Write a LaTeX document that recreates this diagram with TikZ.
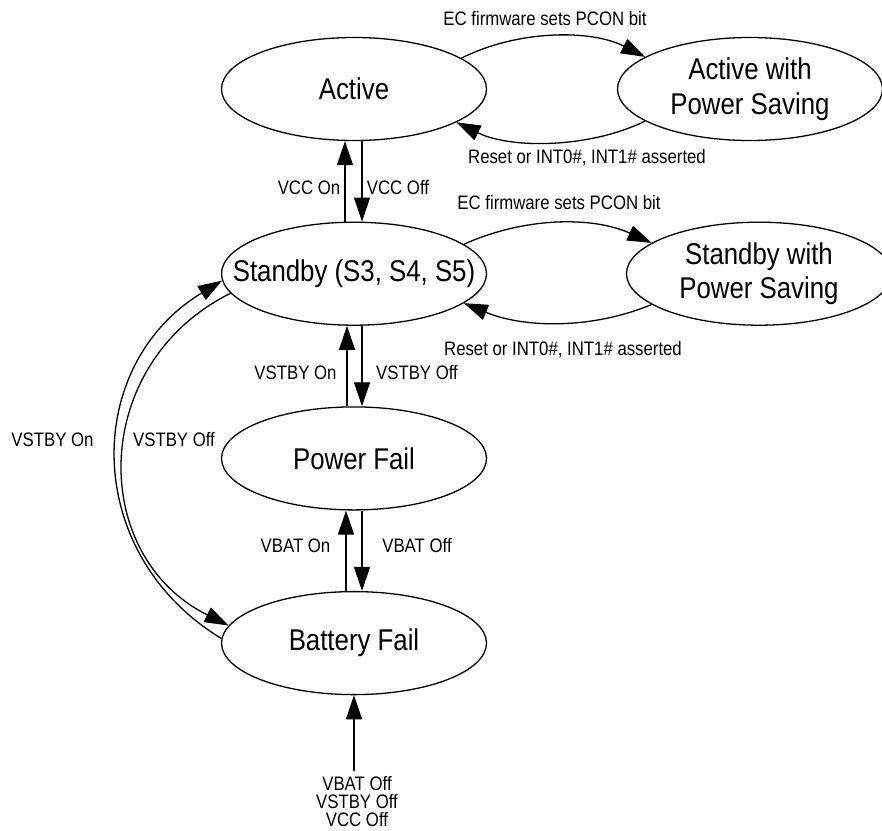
\documentclass[tikz,border=0pt]{standalone}
\usepackage{fontspec}
\setmainfont{Liberation Sans}[FakeStretch=0.86]
\usetikzlibrary{shapes.geometric,arrows.meta}

\begin{document}
\begin{tikzpicture}[x=1pt,y=-1pt,line width=1.3pt,state/.style={shape=ellipse,draw=black,minimum width=265pt,minimum height=103pt,inner xsep=-30pt,inner ysep=0pt,align=center,font=\fontsize{30}{34.5}\selectfont},lbl/.style={inner sep=0pt,font=\fontsize{19.5}{18}\selectfont},tr/.style={-{Triangle[length=24pt,width=16pt]}}]
\def\dy{184.7};
\def\dx{396};
\def\xs{8pt};

\useasboundingbox (0,0) rectangle (882,830);

\node[state] (A) at (354,89) {Active};
\node[state] (AP) at (354+\dx,89) {Active with\\Power Saving};
\node[state] (S) at (354,89+\dy) {Standby (S3, S4, S5)};
\node[state] (SP) at (354+\dx+9,89+\dy) {Standby with\\Power Saving};
\node[state] (PF) at (354,89+2*\dy) {Power Fail};
\node[state] (BF) at (354,89+3*\dy) {Battery Fail};

\draw[tr] (A.16) .. controls +(55,-28) and +(-55,-28) .. (AP.163);
\node[lbl] (ec1) at (545,19) {EC firmware sets PCON bit};
\draw[tr] (AP.197) .. controls +(-55,27) and +(55,27) .. (A.342);
\node[lbl] (rst1) at (587,158) {Reset or INT0\#, INT1\# asserted};

\draw[tr] (S.15) .. controls +(60,-27) and +(-60,-27) .. (SP.164);
\node[lbl] (ec2) at (559,203) {EC firmware sets PCON bit};
\draw[tr] (SP.196) .. controls +(-60,25) and +(60,25) .. (S.345);
\node[lbl] (rst2) at (563,350) {Reset or INT0\#, INT1\# asserted};

\draw[tr] ([xshift=-9pt]S.north) -- ([xshift=-9pt]A.south);
\node[lbl] (vccOn) at (309,188) {VCC On};
\draw[tr] ([xshift=\xs]A.south) -- ([xshift=\xs]S.north);
\node[lbl] (vccOff) at (398,188) {VCC Off};

\draw[tr] ([xshift=-7pt]PF.north) -- ([xshift=-7pt]S.south);
\node[lbl] (sbOn) at (295.5,373) {VSTBY On};
\draw[tr] ([xshift=\xs]S.south) -- ([xshift=\xs]PF.north);
\node[lbl] (sbOff) at (417,373) {VSTBY Off};

\draw[tr] ([xshift=-\xs]BF.north) -- ([xshift=-\xs]PF.south);
\node[lbl] (batOn) at (295.5,546) {VBAT On};
\draw[tr] ([xshift=\xs]PF.south) -- ([xshift=\xs]BF.north);
\node[lbl] (batOff) at (417,546) {VBAT Off};

\draw[tr] (BF.178) .. controls +(-140,-85) and +(-140,85) .. (S.183);
\node[lbl] (sbOnL) at (52.5,440) {VSTBY On};
\draw[tr] (S.189) .. controls +(-141,70) and +(-141,-70) .. (BF.172);
\node[lbl] (sbOffL) at (174,440) {VSTBY Off};

\node[lbl,align=center] (cond) at (357,802) {VBAT Off\\VSTBY Off\\VCC Off};
\draw[tr] ([yshift=5pt]cond.north -| BF.south) -- (BF.south);
\end{tikzpicture}
\end{document}
